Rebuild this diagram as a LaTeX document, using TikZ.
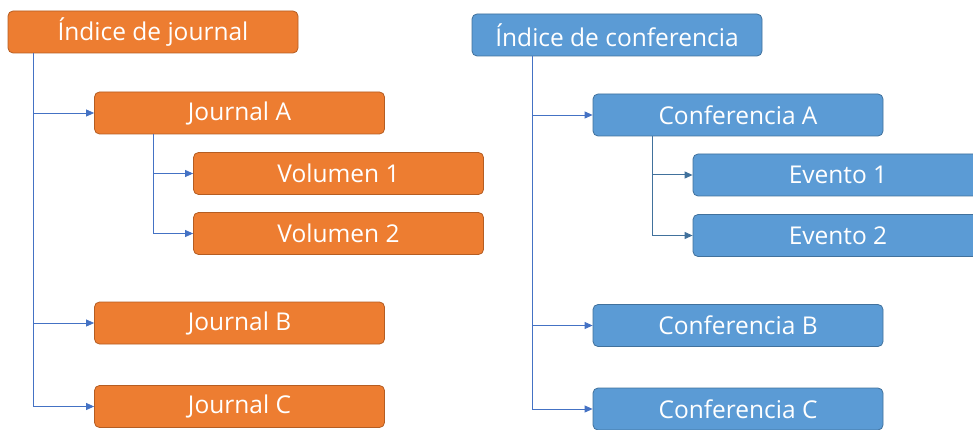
\documentclass[tikz,border=0pt]{standalone}
\usepackage{fontspec}
\setmainfont{Open Sans}
\usetikzlibrary{arrows.meta}
\definecolor{orfill}{HTML}{ED7D31}
\definecolor{ordraw}{HTML}{B55D22}
\definecolor{blfill}{HTML}{5B9BD5}
\definecolor{bldraw}{HTML}{41719C}
\definecolor{lnA}{HTML}{4472C4}
\definecolor{lnB}{HTML}{41719C}
\tikzset{
  box/.style={rounded corners=5pt, line width=0.8pt, minimum width=290pt,
    minimum height=42pt, text=white, inner sep=0pt,
    font=\fontsize{24.5}{28}\selectfont},
  obox/.style={box, fill=orfill, draw=ordraw},
  bbox/.style={box, fill=blfill, draw=bldraw},
  conn/.style={line width=0.8pt, -{Triangle[length=8pt,width=7pt]}},
  connA/.style={conn, draw=lnA},
  connB/.style={conn, draw=lnB, line width=1pt},
}
\begin{document}
\begin{tikzpicture}[x=1pt, y=-1pt]
\useasboundingbox (0,0) rectangle (973,430);
% journal tree
\node[obox] (ij) at (153,32) {Índice de journal};
\node[obox] (ja) at (239.5,113) {Journal A};
\node[obox] (v1) at (338.5,173.5) {Volumen 1};
\node[obox] (v2) at (338.5,233.5) {Volumen 2};
\node[obox] (jb) at (239.5,323) {Journal B};
\node[obox] (jc) at (239.5,406.5) {Journal C};
\coordinate (jt) at (33,0);
\coordinate (js) at (153,0);
\draw[connA] (ij.south -| jt) |- (jc.west);
\draw[connA] (jt |- ja.west) -- (ja.west);
\draw[connA] (jt |- jb.west) -- (jb.west);
\draw[connA] (ja.south -| js) |- (v2.west);
\draw[connA] (js |- v1.west) -- (v1.west);
% conference tree
\node[bbox] (ic) at (617,35) {Índice de conferencia};
\node[bbox] (ca) at (738,115) {Conferencia A};
\node[bbox] (e1) at (838,175) {Evento 1};
\node[bbox] (e2) at (838,235.5) {Evento 2};
\node[bbox] (cb) at (738,325.5) {Conferencia B};
\node[bbox] (cc) at (738,409) {Conferencia C};
\coordinate (ct) at (532,0);
\coordinate (cs) at (652,0);
\draw[connA] (ic.south -| ct) |- (cc.west);
\draw[connA] (ct |- ca.west) -- (ca.west);
\draw[connA] (ct |- cb.west) -- (cb.west);
\draw[connB] (ca.south -| cs) |- (e2.west);
\draw[connB] (cs |- e1.west) -- (e1.west);
\end{tikzpicture}
\end{document}
